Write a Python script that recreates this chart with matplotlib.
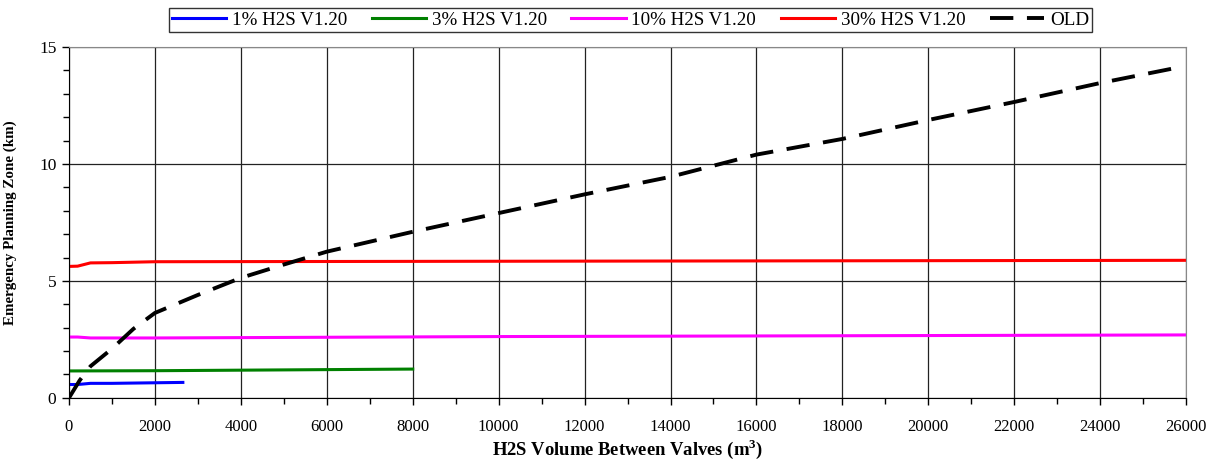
import matplotlib
matplotlib.use('AGG')
import numpy as np
import matplotlib.pyplot as plt
from matplotlib.ticker import MultipleLocator

# values
vol_1 = [0, 200, 500, 1000, 2650]
epz_1 = [0.57, 0.57, 0.62, 0.62, 0.66]

vol_3 = [0, 2000, 8000]
epz_3 = [1.15, 1.16, 1.23]

vol_10 = [0, 200, 500, 2000, 10000, 26000]
epz_10 = [2.60, 2.60, 2.56, 2.56, 2.62, 2.69]

vol_30 = [0, 200, 500, 1000, 2000, 26000]
epz_30 = [5.62, 5.63, 5.77, 5.78, 5.82, 5.88]

vol_old = [0, 250, 500, 1000, 1500, 2000, 3000, 4000, 5000, 6000, 8000,
           10000, 12000, 14000, 16000, 18000, 20000, 22000, 24000, 25800]
epz_old = [0, 0.75, 1.35, 2.1, 2.95, 3.63, 4.4, 5.13, 5.7, 6.25, 7.1,
           7.9, 8.7, 9.45, 10.4, 11.07, 11.88, 12.65, 13.46, 14.12]

names = ["1% H2S V1.20", "3% H2S V1.20", "10% H2S V1.20", "30% H2S V1.20", "OLD"]

plt.rcParams['font.family'] = ['Liberation Serif', 'DejaVu Serif']
plt.rcParams['font.size'] = 12
plt.rcParams['mathtext.fontset'] = 'custom'
plt.rcParams['mathtext.bf'] = 'Liberation Serif:bold'

fig = plt.figure(figsize=(12.19, 4.61), dpi=100)
ax = fig.add_axes([0.0566, 0.137, 0.9164, 0.761])

ax.plot(vol_1, epz_1, color="#0000ff", lw=2.2, label=names[0])
ax.plot(vol_3, epz_3, color="#008000", lw=2.2, label=names[1])
ax.plot(vol_10, epz_10, color="#ff00ff", lw=2.2, label=names[2])
ax.plot(vol_30, epz_30, color="#ff0000", lw=2.2, label=names[3])
ax.plot(vol_old, epz_old, color="black", lw=2.8, dashes=(6, 3.5), label=names[4])

ax.set_xlim(0, 26000)
ax.set_ylim(0, 15)
ax.xaxis.set_major_locator(MultipleLocator(2000))
ax.xaxis.set_minor_locator(MultipleLocator(1000))
ax.yaxis.set_major_locator(MultipleLocator(5))
ax.yaxis.set_minor_locator(MultipleLocator(1))
ax.grid(True, which='major', color='#222222', lw=0.9)
ax.set_axisbelow(True)
ax.tick_params(which='major', direction='out', length=5, width=1, labelsize=12, pad=4)
ax.tick_params(axis='y', labelsize=12.5)
ax.tick_params(which='minor', direction='out', length=4, width=1)
ax.tick_params(axis='x', pad=10)
for s in ['top', 'right']:
    ax.spines[s].set_color('#888888')
for s in ['left', 'bottom']:
    ax.spines[s].set_color('black')

ax.set_xlabel(r"H2S Volume Between Valves (m$^\mathbf{3}$)", fontsize=13.4,
              fontweight='bold', labelpad=2)
ax.set_ylabel("Emergency Planning Zone (km)", fontsize=10.8, fontweight='bold',
              labelpad=16)

leg = fig.legend(loc='center', bbox_to_anchor=(0.5 * (169 + 1092) / 1219, 1 - 20 / 461),
                 ncol=5, frameon=True, fancybox=False, edgecolor='black',
                 fontsize=13.7, handlelength=2.85, handletextpad=0.3,
                 columnspacing=1.3, borderpad=0.15)
leg.get_frame().set_linewidth(1.0)

fig.savefig("out.png", dpi=100)
